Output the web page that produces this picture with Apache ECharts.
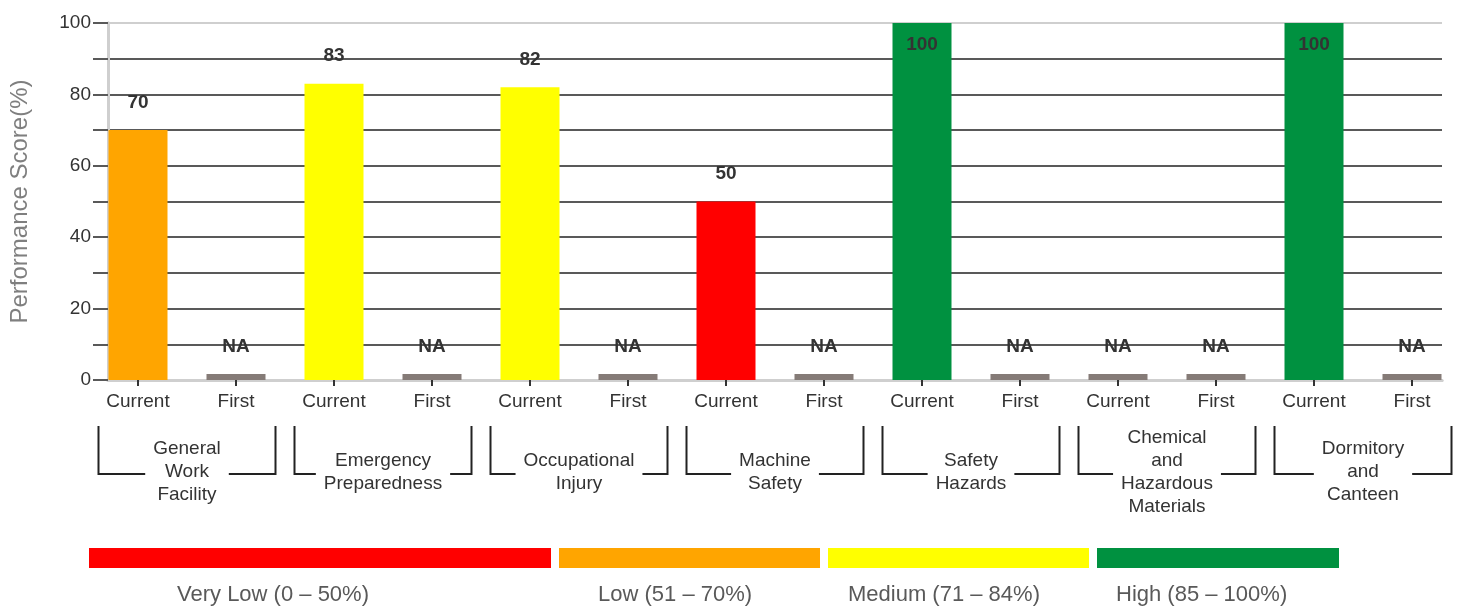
<!DOCTYPE html>
<html>
<head>
<meta charset="utf-8">
<script src="https://cdn.jsdelivr.net/npm/echarts@6/dist/echarts.min.js"></script>
<style>
  html, body { margin: 0; padding: 0; background: #fff; }
  #main { width: 1466px; height: 608px; }
</style>
</head>
<body>
<div id="main"></div>
<script>
// ---- data ----
const rounds = ['Current', 'First', 'Current', 'First', 'Current', 'First', 'Current', 'First',
                'Current', 'First', 'Current', 'First', 'Current', 'First'];
const groups = ['General\nWork\nFacility', 'Emergency\nPreparedness', 'Occupational\nInjury',
                'Machine\nSafety', 'Safety\nHazards', 'Chemical\nand\nHazardous\nMaterials', 'Dormitory\nand\nCanteen'];
// null = not assessed (NA)
const scores = [70, null, 83, null, 82, null, 50, null, 100, null, null, null, 100, null];
const yTicks = [0, 20, 40, 60, 80, 100];
const bandMax = [50, 70, 84, 100];
const bandColors = ['#ff0000', '#ffa500', '#ffff00', '#009140'];
const bandLabels = ['Very Low (0 \u2013 50%)', 'Low (51 \u2013 70%)', 'Medium (71 \u2013 84%)', 'High (85 \u2013 100%)'];

const NA_STUB = 1.7;
const NA_COLOR = '#857b77';
const TEXT = '#333';
const GRID_LINE = '#595959';
const FRAME = '#cfcfcf';
const FONT = '"Liberation Sans", Arial, sans-serif';

function bandColor(v) {
    for (let i = 0; i < bandMax.length; i++) {
        if (v <= bandMax[i]) return bandColors[i];
    }
    return bandColors[bandColors.length - 1];
}

const barData = scores.map(function (v) {
    if (v === null) {
        return { value: NA_STUB, itemStyle: { color: NA_COLOR }, label: { formatter: 'NA' } };
    }
    const item = { value: v, itemStyle: { color: bandColor(v) } };
    if (v >= 100) {
        item.label = { position: 'insideTop', distance: 12 };
    }
    return item;
});

const chart = echarts.init(document.getElementById('main'), null, { renderer: 'canvas' });

// split line colours: frame colour at 0 and 100, dark in between
const splitColors = [];
for (let v = 0; v <= 100; v += 10) {
    splitColors.push(v === 0 || v === 100 ? FRAME : GRID_LINE);
}

const option = {
    animation: false,
    textStyle: { fontFamily: FONT },
    grid: [
        { left: 108, right: 24, top: 23, bottom: 228 },   // frame + y axis
        { left: 89, right: 5, top: 23, bottom: 228 }      // bars
    ],
    xAxis: [
        {
            gridIndex: 0, type: 'value', min: 0, max: 1, position: 'bottom',
            axisLine: { show: true, lineStyle: { color: FRAME, width: 3 } },
            axisTick: { show: false }, axisLabel: { show: false }, splitLine: { show: false }
        },
        {
            gridIndex: 0, type: 'value', min: 0, max: 1, position: 'top',
            axisLine: { show: true, lineStyle: { color: FRAME, width: 3 } },
            axisTick: { show: false }, axisLabel: { show: false }, splitLine: { show: false }
        },
        {
            gridIndex: 1, type: 'category', data: rounds, position: 'bottom',
            axisLine: { show: false },
            axisTick: { show: true, alignWithLabel: true, length: 6, lineStyle: { color: TEXT, width: 2 } },
            axisLabel: { color: TEXT, fontSize: 19, margin: 12, fontFamily: FONT },
            splitLine: { show: false }
        },
        {
            gridIndex: 1, type: 'category', data: groups, position: 'bottom',
            axisLine: { show: false }, axisTick: { show: false },
            axisLabel: {
                color: TEXT, fontSize: 19, lineHeight: 23, margin: 92,
                verticalAlign: 'middle', align: 'center', interval: 0, fontFamily: FONT
            },
            splitLine: { show: false }
        }
    ],
    yAxis: [
        {
            gridIndex: 0, type: 'value', min: 0, max: 100, interval: 10, position: 'left',
            name: 'Performance Score(%)', nameLocation: 'middle', nameGap: 76,
            nameTextStyle: { color: '#7f7f7f', fontSize: 24, fontFamily: FONT },
            axisLine: { show: true, lineStyle: { color: FRAME, width: 3 } },
            axisTick: { show: true, length: 15, lineStyle: { color: GRID_LINE, width: 2 } },
            axisLabel: {
                color: TEXT, fontSize: 19, margin: 17, fontFamily: FONT,
                formatter: function (v) { return yTicks.indexOf(v) >= 0 ? String(v) : ''; }
            },
            splitLine: { show: true, lineStyle: { color: splitColors, width: 2 } }
        },
        {
            gridIndex: 0, type: 'value', min: 0, max: 100, position: 'right',
            axisLine: { show: true, lineStyle: { color: FRAME, width: 3 } },
            axisTick: { show: false }, axisLabel: { show: false }, splitLine: { show: false }
        },
        {
            gridIndex: 1, type: 'value', min: 0, max: 100, show: false
        }
    ],
    series: [
        {
            type: 'bar',
            xAxisIndex: 2,
            yAxisIndex: 2,
            barWidth: 59,
            data: barData,
            label: {
                show: true, position: 'top', distance: 18,
                color: TEXT, fontSize: 19, fontWeight: 'bold', fontFamily: FONT
            },
            z: 3
        }
    ]
};

chart.setOption(option);

// ---- brackets under each group and the score-band key ----
const measure = document.createElement('canvas').getContext('2d');
measure.font = '19px ' + FONT;

const axisY = chart.convertToPixel({ yAxisIndex: 2 }, 0);
const bracketTop = axisY + 46;
const bracketBottom = axisY + 94;
const graphics = [];

groups.forEach(function (g, i) {
    const cx = chart.convertToPixel({ xAxisIndex: 3 }, i);
    const half = 88.5;
    const textW = Math.max.apply(null, g.split('\n').map(function (s) { return measure.measureText(s).width; }));
    const gap = textW / 2 + 8;
    const style = { stroke: '#222', lineWidth: 2, fill: null };
    graphics.push({
        type: 'polyline', silent: true,
        shape: { points: [[cx - gap, bracketBottom], [cx - half, bracketBottom], [cx - half, bracketTop]] },
        style: style
    });
    graphics.push({
        type: 'polyline', silent: true,
        shape: { points: [[cx + gap, bracketBottom], [cx + half, bracketBottom], [cx + half, bracketTop]] },
        style: style
    });
});

// key bars and captions (layout)
const keyRects = [[89, 462], [559, 261], [828, 261], [1097, 242]];
const keyText = [177, 598, 848, 1116];
bandColors.forEach(function (c, i) {
    graphics.push({
        type: 'rect', silent: true,
        shape: { x: keyRects[i][0], y: 548, width: keyRects[i][1], height: 20 },
        style: { fill: c }
    });
    graphics.push({
        type: 'text', silent: true,
        x: keyText[i], y: 595,
        style: {
            text: bandLabels[i], fill: '#595959', font: '22px ' + FONT,
            textAlign: 'left', textVerticalAlign: 'middle'
        }
    });
});

chart.setOption({ graphic: graphics });
</script>
</body>
</html>
